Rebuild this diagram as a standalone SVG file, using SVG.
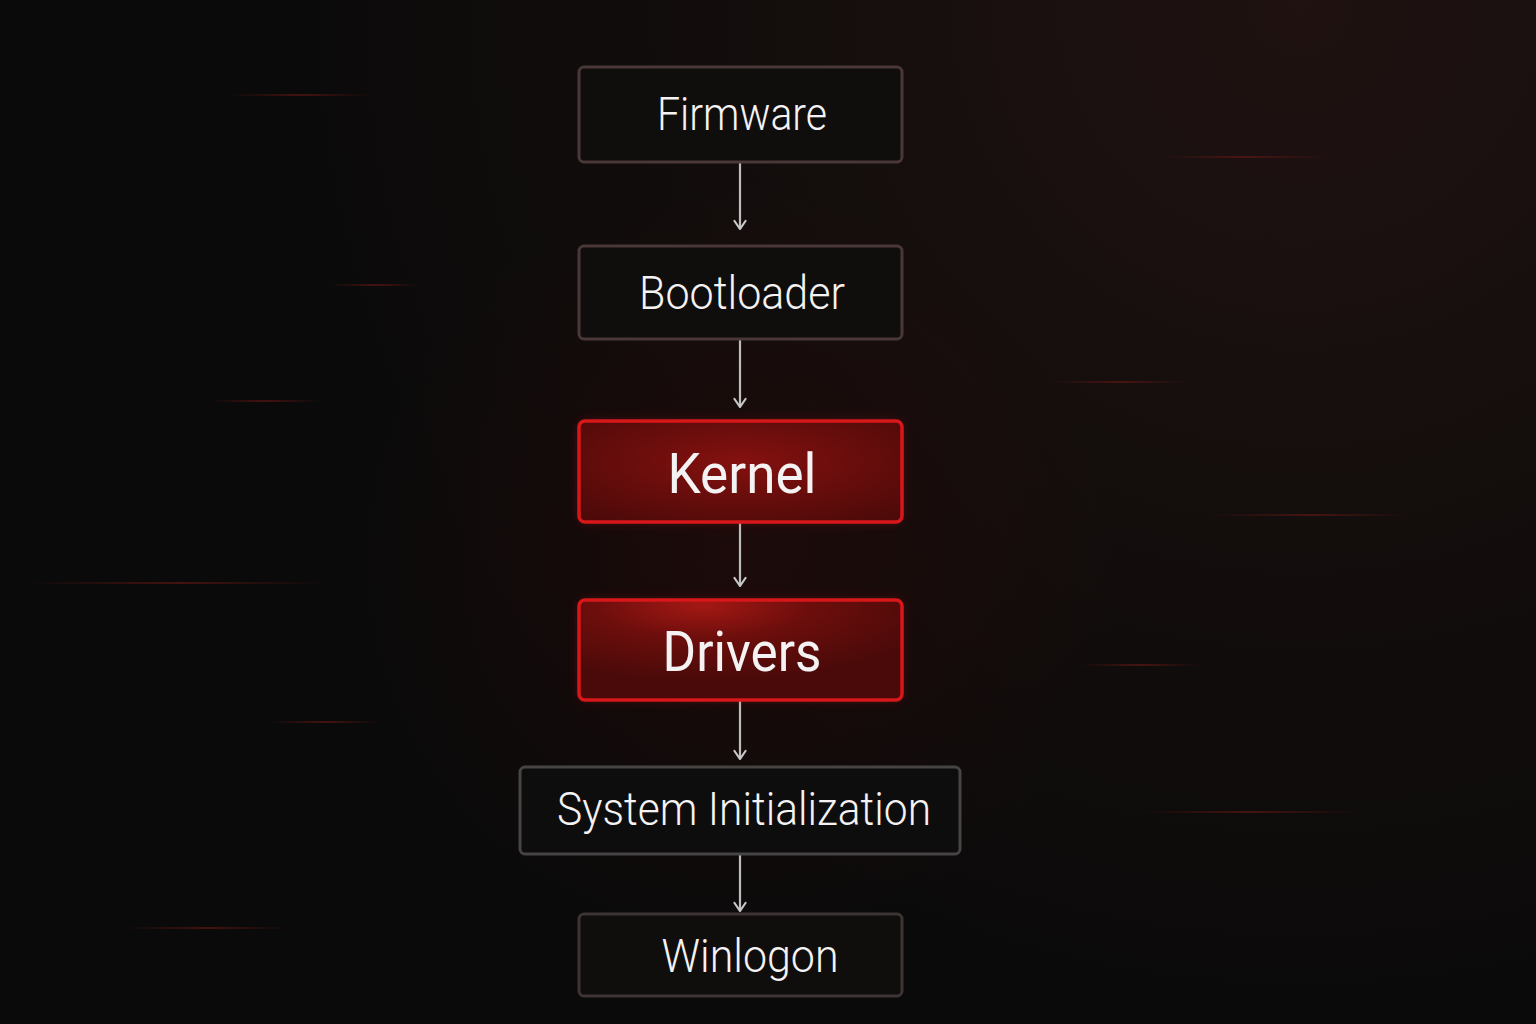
<svg xmlns="http://www.w3.org/2000/svg" width="1536" height="1024" viewBox="0 0 1536 1024">
  <defs>
    <radialGradient id="bgGlow" cx="1300" cy="0" r="1000" gradientUnits="userSpaceOnUse">
      <stop offset="0" stop-color="#1f1211"/>
      <stop offset="0.5" stop-color="#140e0d"/>
      <stop offset="1" stop-color="#0b0a0a"/>
    </radialGradient>
    <radialGradient id="centerGlow" cx="740" cy="560" r="380" gradientUnits="userSpaceOnUse">
      <stop offset="0" stop-color="#2a0a09" stop-opacity="0.5"/>
      <stop offset="1" stop-color="#2a0a09" stop-opacity="0"/>
    </radialGradient>
    <linearGradient id="streak" x1="0" y1="0" x2="1" y2="0">
      <stop offset="0" stop-color="#6a1814" stop-opacity="0"/>
      <stop offset="0.5" stop-color="#6a1814" stop-opacity="0.6"/>
      <stop offset="1" stop-color="#6a1814" stop-opacity="0"/>
    </linearGradient>
    <radialGradient id="kernelFill" cx="0.5" cy="0.4" r="0.7">
      <stop offset="0" stop-color="#84110f"/>
      <stop offset="1" stop-color="#4e0a09"/>
    </radialGradient>
    <radialGradient id="driversFill" cx="0.38" cy="0.05" r="0.75">
      <stop offset="0" stop-color="#a41814"/>
      <stop offset="0.45" stop-color="#6c0e0c"/>
      <stop offset="1" stop-color="#4a0a09"/>
    </radialGradient>
    <filter id="redGlow" x="-20%" y="-40%" width="140%" height="180%">
      <feGaussianBlur stdDeviation="6"/>
    </filter>
    <marker id="arrow" viewBox="0 0 12 14" refX="11" refY="7" markerWidth="12" markerHeight="14" markerUnits="userSpaceOnUse" orient="auto">
      <path d="M3 1.5 L11 7 L3 12.5" fill="none" stroke="#c8c8c8" stroke-width="2.2" stroke-linecap="round" stroke-linejoin="round"/>
    </marker>
    <style>
      .plain { fill: #100d0d; stroke: #4a3838; stroke-width: 3; }
      .grey { fill: #0e0d0d; stroke: #474444; stroke-width: 3; }
      .red { stroke: #d8171a; stroke-width: 3.5; }
      .lbl { font-family: Roboto, "Open Sans", "Liberation Sans", sans-serif; font-weight: 300; fill: #f4f2f2; text-anchor: middle; }
      .lbl.hi { font-weight: 400; }
      .conn { stroke: #bdbdbd; stroke-width: 2.2; fill: none; }
    </style>
  </defs>

  <rect width="1536" height="1024" fill="url(#bgGlow)"/>
  <rect width="1536" height="1024" fill="url(#centerGlow)"/>

  <g id="streaks" fill="url(#streak)">
    <rect x="230" y="94" width="140" height="2"/>
    <rect x="330" y="284" width="90" height="2"/>
    <rect x="210" y="400" width="110" height="2"/>
    <rect x="30" y="582" width="295" height="2"/>
    <rect x="270" y="721" width="110" height="2"/>
    <rect x="125" y="927" width="165" height="2"/>
    <rect x="1160" y="156" width="170" height="2"/>
    <rect x="1050" y="381" width="140" height="2"/>
    <rect x="1210" y="514" width="200" height="2"/>
    <rect x="1080" y="664" width="120" height="2"/>
    <rect x="1140" y="811" width="220" height="2"/>
  </g>

  <g id="connectors">
    <line class="conn" x1="740" y1="158" x2="740" y2="229" marker-end="url(#arrow)"/>
    <line class="conn" x1="740" y1="334" x2="740" y2="407" marker-end="url(#arrow)"/>
    <line class="conn" x1="740" y1="517" x2="740" y2="586" marker-end="url(#arrow)"/>
    <line class="conn" x1="740" y1="693" x2="740" y2="759" marker-end="url(#arrow)"/>
    <line class="conn" x1="740" y1="846" x2="740" y2="911" marker-end="url(#arrow)"/>
  </g>

  <g id="firmware">
    <rect class="plain" x="579" y="67" width="323" height="95" rx="5"/>
    <text class="lbl" x="742" y="130" font-size="46" textLength="170" lengthAdjust="spacingAndGlyphs">Firmware</text>
  </g>

  <g id="bootloader">
    <rect class="plain" x="579" y="246" width="323" height="93" rx="5"/>
    <text class="lbl" x="742" y="309" font-size="46" textLength="206" lengthAdjust="spacingAndGlyphs">Bootloader</text>
  </g>

  <g id="kernel">
    <rect x="579" y="421" width="323" height="101" rx="6" fill="#c0141a" opacity="0.3" filter="url(#redGlow)"/>
    <rect class="red" x="579" y="421" width="323" height="101" rx="6" fill="url(#kernelFill)"/>
    <text class="lbl hi" x="742" y="493" font-size="56" textLength="149" lengthAdjust="spacingAndGlyphs">Kernel</text>
  </g>

  <g id="drivers">
    <rect x="579" y="600" width="323" height="100" rx="6" fill="#c0141a" opacity="0.3" filter="url(#redGlow)"/>
    <rect class="red" x="579" y="600" width="323" height="100" rx="6" fill="url(#driversFill)"/>
    <text class="lbl hi" x="742" y="671" font-size="56" textLength="159" lengthAdjust="spacingAndGlyphs">Drivers</text>
  </g>

  <g id="system-initialization">
    <rect class="grey" x="520" y="767" width="440" height="87" rx="5"/>
    <text class="lbl" x="744" y="825" font-size="46" textLength="374" lengthAdjust="spacingAndGlyphs">System Initialization</text>
  </g>

  <g id="winlogon">
    <rect class="plain" x="579" y="914" width="323" height="82" rx="5" style="stroke:#3e3434"/>
    <text class="lbl" x="750" y="972" font-size="46" textLength="177" lengthAdjust="spacingAndGlyphs">Winlogon</text>
  </g>
</svg>
